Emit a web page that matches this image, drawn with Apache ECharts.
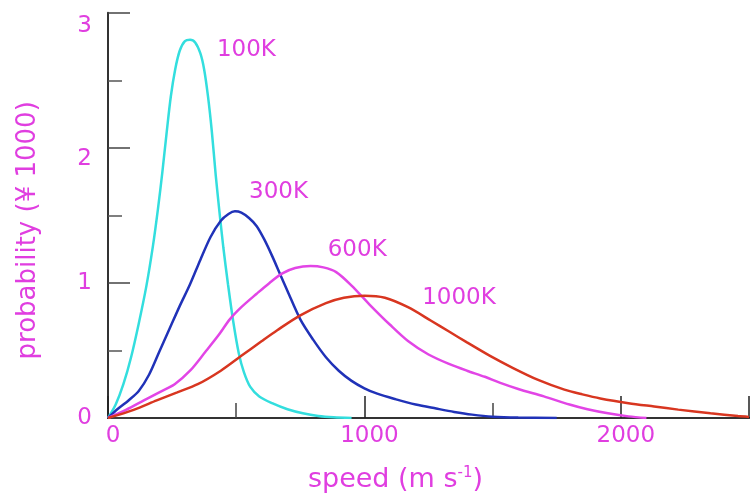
<!DOCTYPE html>
<html>
<head>
<meta charset="utf-8">
<script src="https://cdn.jsdelivr.net/npm/echarts@6/dist/echarts.min.js"></script>
<style>
html,body{margin:0;padding:0;background:#fff;}
#chart{width:752px;height:498px;}
</style>
</head>
<body>
<div id="chart"></div>
<script>
// ---- data (speed in m/s, probability x1000) ----
var seriesNames = ['100K', '300K', '600K', '1000K'];

var speed100 = [0, 30, 60, 90, 120, 150, 175, 195, 212, 228, 245, 262, 280, 300, 320, 340, 360, 375, 390, 405, 420, 435, 450, 468, 488, 510, 530, 555, 590, 640, 700, 760, 820, 880, 950];
var prob100  = [0, 0.10, 0.25, 0.45, 0.70, 0.98, 1.27, 1.55, 1.82, 2.10, 2.38, 2.58, 2.72, 2.79, 2.80, 2.78, 2.70, 2.58, 2.38, 2.12, 1.80, 1.52, 1.26, 0.99, 0.72, 0.48, 0.34, 0.23, 0.16, 0.11, 0.065, 0.035, 0.015, 0.005, 0];

var speed300 = [0, 40, 80, 120, 160, 200, 240, 280, 320, 360, 400, 440, 470, 495, 520, 550, 580, 610, 640, 670, 700, 750, 800, 850, 900, 950, 1000, 1050, 1120, 1200, 1280, 1350, 1420, 1500, 1600, 1750];
var prob300  = [0, 0.07, 0.13, 0.20, 0.32, 0.49, 0.66, 0.83, 0.99, 1.17, 1.34, 1.46, 1.51, 1.53, 1.52, 1.48, 1.42, 1.32, 1.20, 1.07, 0.94, 0.73, 0.58, 0.45, 0.35, 0.275, 0.22, 0.18, 0.14, 0.10, 0.07, 0.045, 0.025, 0.01, 0.003, 0];

var speed600 = [0, 70, 140, 200, 260, 320, 380, 430, 475, 520, 580, 630, 680, 730, 790, 840, 890, 950, 1020, 1100, 1170, 1250, 1330, 1400, 1470, 1530, 1600, 1700, 1800, 1870, 1950, 2030, 2100];
var prob600  = [0, 0.06, 0.13, 0.19, 0.25, 0.35, 0.49, 0.61, 0.73, 0.82, 0.92, 1.0, 1.07, 1.11, 1.125, 1.115, 1.08, 0.98, 0.84, 0.69, 0.57, 0.47, 0.40, 0.35, 0.305, 0.26, 0.215, 0.16, 0.10, 0.065, 0.035, 0.012, 0];

var speed1000 = [0, 100, 190, 270, 350, 440, 520, 600, 660, 750, 850, 920, 1000, 1080, 1170, 1260, 1330, 1400, 1490, 1580, 1680, 1780, 1850, 1920, 2030, 2130, 2224, 2350, 2457, 2500];
var prob1000  = [0, 0.06, 0.13, 0.19, 0.25, 0.35, 0.46, 0.57, 0.65, 0.76, 0.85, 0.89, 0.905, 0.89, 0.82, 0.72, 0.64, 0.56, 0.46, 0.37, 0.28, 0.21, 0.175, 0.145, 0.11, 0.085, 0.062, 0.035, 0.014, 0.008];

var xTickLabels = ['0', '1000', '2000'];
var yTickLabels = ['0', '1', '2', '3'];

// ---- build chart ----
var txt = '#e03ee0';
var font = 'DejaVu Sans';
var speeds = [speed100, speed300, speed600, speed1000];
var probs = [prob100, prob300, prob600, prob1000];
var colors = ['#33dede', '#2032b8', '#e245e6', '#d83620'];
// label anchor in data coordinates [speed, probability]
var labelAt = [[540, 2.72], [665, 1.67], [972, 1.245], [1369, 0.886]];
// small vertical nudges of the y tick labels (as in the reference)
var yLabelPad = { '3': 26, '2': 22, '1': 0, '0': 0 };

function pairs(xs, ys) {
  return xs.map(function (x, i) { return [x, ys[i]]; });
}

var series = seriesNames.map(function (n, i) {
  return {
    name: n,
    type: 'line',
    data: pairs(speeds[i], probs[i]),
    showSymbol: false,
    smooth: 0.3,
    lineStyle: { color: colors[i], width: 2.5 },
    z: 3,
    markPoint: {
      symbol: 'circle',
      symbolSize: 1,
      itemStyle: { color: 'rgba(0,0,0,0)' },
      label: { show: true, position: 'inside', formatter: n, color: txt, fontFamily: font, fontSize: 23 },
      data: [{ coord: labelAt[i] }]
    }
  };
});

var yRich = {};
Object.keys(yLabelPad).forEach(function (k) {
  yRich['p' + k] = { color: txt, fontFamily: font, fontSize: 23, padding: [yLabelPad[k], 0, 0, 0] };
});

var chart = echarts.init(document.getElementById('chart'));
chart.setOption({
  animation: false,
  backgroundColor: '#ffffff',
  grid: { left: 108, right: 0, top: 12.7, bottom: 76.3 },
  xAxis: [{
    type: 'value',
    min: 0, max: 2500, interval: 1000,
    axisLine: { show: true, onZero: false, lineStyle: { color: '#333', width: 2 } },
    axisTick: { show: true, inside: true, length: 22, lineStyle: { color: '#222', width: 1.5 } },
    minorTick: { show: true, splitNumber: 2, length: 15, lineStyle: { color: '#444', width: 1.5 } },
    splitLine: { show: false },
    axisLabel: {
      color: txt, fontFamily: font, fontSize: 23, margin: 7, padding: [0, 0, 0, 10],
      formatter: function (v) { var s = String(v); return xTickLabels.indexOf(s) >= 0 ? s : ''; }
    },
    name: 'speed (m s{sup|-1})',
    nameLocation: 'middle',
    nameGap: 48,
    nameTextStyle: {
      color: txt, fontFamily: font, fontSize: 27, padding: [0, 66, 0, 0],
      rich: { sup: { color: txt, fontFamily: font, fontSize: 15, verticalAlign: 'top', padding: [0, 0, 12, 0] } }
    }
  }, {
    type: 'value', position: 'top',
    min: 0, max: 2500,
    axisLine: { show: true, lineStyle: { color: '#333', width: 2 } },
    axisTick: { show: false }, axisLabel: { show: false }, splitLine: { show: false }
  }],
  yAxis: {
    type: 'value',
    min: 0, max: 3, interval: 1,
    axisLine: { show: true, lineStyle: { color: '#333', width: 2 } },
    axisTick: { show: true, inside: true, length: 22, lineStyle: { color: '#444', width: 1.5 } },
    minorTick: { show: true, splitNumber: 2, length: 14, lineStyle: { color: '#555', width: 1.5 } },
    splitLine: { show: false },
    axisLabel: {
      color: txt, fontFamily: font, fontSize: 23, margin: 16,
      formatter: function (v) { var s = String(v); return yTickLabels.indexOf(s) >= 0 ? '{p' + s + '|' + s + '}' : ''; },
      rich: yRich
    },
    name: 'probability (¥ 1000)',
    nameLocation: 'middle',
    nameGap: 67,
    nameTextStyle: { color: txt, fontFamily: font, fontSize: 26, padding: [0, 30, 0, 0] }
  },
  series: series
});
</script>
</body>
</html>
